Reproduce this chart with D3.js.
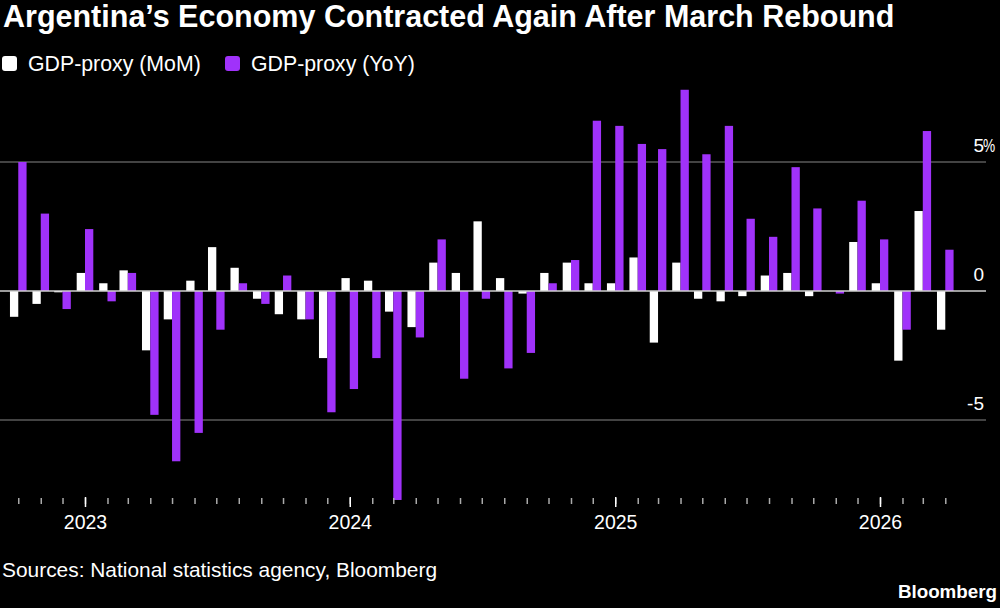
<!DOCTYPE html>
<html>
<head>
<meta charset="utf-8">
<script src="https://cdn.jsdelivr.net/npm/d3@7"></script>
<style>
  body { margin: 0; background: #000; }
  text { font-family: "Liberation Sans", Arial, sans-serif; fill: #fff; }
</style>
</head>
<body>
<svg id="chart" width="1000" height="608"></svg>
<script>
const months = [
  "2022-10", "2022-11", "2022-12",
  "2023-01", "2023-02", "2023-03", "2023-04", "2023-05", "2023-06",
  "2023-07", "2023-08", "2023-09", "2023-10", "2023-11", "2023-12",
  "2024-01", "2024-02", "2024-03", "2024-04", "2024-05", "2024-06",
  "2024-07", "2024-08", "2024-09", "2024-10", "2024-11", "2024-12",
  "2025-01", "2025-02", "2025-03", "2025-04", "2025-05", "2025-06",
  "2025-07", "2025-08", "2025-09", "2025-10", "2025-11", "2025-12",
  "2026-01", "2026-02", "2026-03", "2026-04"
];

const momValues = [
  -1.0, -0.5, -0.05,
  0.7, 0.3, 0.8, -2.3, -1.1, 0.4, 1.7, 0.9, -0.3, -0.9, -1.1, -2.6,
  0.5, 0.4, -0.8, -1.4, 1.1, 0.7, 2.7, 0.5, -0.1, 0.7, 1.1, 0.3,
  0.3, 1.3, -2.0, 1.1, -0.3, -0.4, -0.2, 0.6, 0.7, -0.2, 0.0, 1.9,
  0.3, -2.7, 3.1, -1.5
];

const yoyValues = [
  5.0, 3.0, -0.7,
  2.4, -0.4, 0.7, -4.8, -6.6, -5.5, -1.5, 0.3, -0.5, 0.6, -1.1, -4.7,
  -3.8, -2.6, -8.1, -1.8, 2.0, -3.4, -0.3, -3.0, -2.4, 0.3, 1.2, 6.6,
  6.4, 5.7, 5.5, 7.8, 5.3, 6.4, 2.8, 2.1, 4.8, 3.2, -0.1, 3.5,
  2.0, -1.5, 6.2, 1.6
];

const yTicks = [-5, 0, 5];
const yearTicks = ["2023", "2024", "2025", "2026"];
const seriesNames = ["GDP-proxy (MoM)", "GDP-proxy (YoY)"];
const seriesColors = ["#ffffff", "#a032fa"];

const svg = d3.select("#chart");
const parseMonth = d3.timeParse("%Y-%m");
const parseYear = d3.timeParse("%Y");

svg.append("rect").attr("width", 1000).attr("height", 608).attr("fill", "#000");

const x = d3.scaleTime()
  .domain([parseMonth("2023-01"), parseMonth("2026-01")])
  .range([85, 880]);
const y = d3.scaleLinear().domain([-5, 5]).range([420, 162]);
const sub = d3.scaleBand().domain([0, 1]).range([-8.3, 8.3]);

const data = months.map((m, i) => ({ date: parseMonth(m), mom: momValues[i], yoy: yoyValues[i] }));

// title + legend
svg.append("text")
  .attr("x", 3).attr("y", 27)
  .attr("font-size", "30.5px").attr("font-weight", "bold")
  .text("Argentina\u2019s Economy Contracted Again After March Rebound");

const legendX = [2, 225];
seriesNames.forEach((name, i) => {
  svg.append("rect")
    .attr("x", legendX[i]).attr("y", 56)
    .attr("width", 15).attr("height", 15).attr("rx", 3)
    .attr("fill", seriesColors[i]);
  svg.append("text")
    .attr("x", legendX[i] + 26).attr("y", 71)
    .attr("font-size", "21.3px")
    .text(name);
});

// grid
svg.append("g").selectAll("line")
  .data(yTicks.filter(d => d !== 0))
  .join("line")
  .attr("x1", 0).attr("x2", 986)
  .attr("y1", d => y(d)).attr("y2", d => y(d))
  .attr("stroke", "#5a5a5a").attr("stroke-width", 1.5);

svg.append("g").selectAll("text")
  .data(yTicks)
  .join("text")
  .attr("x", 984).attr("y", d => y(d) - 10)
  .attr("text-anchor", "end")
  .attr("font-size", "19px")
  .text(d => d);
// narrow % sign hanging after the top label
svg.append("text")
  .attr("transform", `translate(983,${y(5) - 10}) scale(0.72,1)`)
  .attr("font-size", "19px")
  .text("%");

// bars
const groups = svg.append("g").selectAll("g")
  .data(data)
  .join("g")
  .attr("transform", d => `translate(${x(d.date)},0)`);

groups.append("rect")
  .attr("x", sub(0))
  .attr("width", sub.bandwidth())
  .attr("y", d => y(Math.max(0, d.mom)))
  .attr("height", d => Math.abs(y(d.mom) - y(0)))
  .attr("fill", seriesColors[0]);

groups.append("rect")
  .attr("x", sub(1))
  .attr("width", sub.bandwidth())
  .attr("y", d => y(Math.max(0, d.yoy)))
  .attr("height", d => Math.abs(y(d.yoy) - y(0)))
  .attr("fill", seriesColors[1]);

svg.append("line")
  .attr("x1", 0).attr("x2", 986)
  .attr("y1", y(0)).attr("y2", y(0))
  .attr("stroke", "#d0d0d0").attr("stroke-width", 1.5);

// x axis: month ticks + year ticks
svg.append("g")
  .attr("transform", "translate(0,498)")
  .call(d3.axisBottom(x).tickValues(data.map(d => d.date)).tickSize(6).tickFormat(""))
  .call(g => g.select(".domain").remove())
  .selectAll("line").attr("stroke", "#aaa").attr("stroke-width", 1.5);

svg.append("g")
  .attr("transform", "translate(0,497)")
  .call(d3.axisBottom(x).tickValues(yearTicks.map(parseYear)).tickSize(10).tickPadding(8)
    .tickFormat(d3.timeFormat("%Y")))
  .call(g => g.select(".domain").remove())
  .call(g => g.selectAll("line").attr("stroke", "#fff").attr("stroke-width", 1.5))
  .call(g => g.selectAll("text")
    .attr("fill", "#fff")
    .attr("font-size", "19.5px")
    .attr("font-family", "Liberation Sans, Arial, sans-serif"));

// footer
svg.append("text")
  .attr("x", 2).attr("y", 577)
  .attr("font-size", "20.9px")
  .text("Sources: National statistics agency, Bloomberg");

svg.append("text")
  .attr("x", 997).attr("y", 598)
  .attr("text-anchor", "end")
  .attr("font-size", "18.8px").attr("font-weight", "bold")
  .text("Bloomberg");
</script>
</body>
</html>
